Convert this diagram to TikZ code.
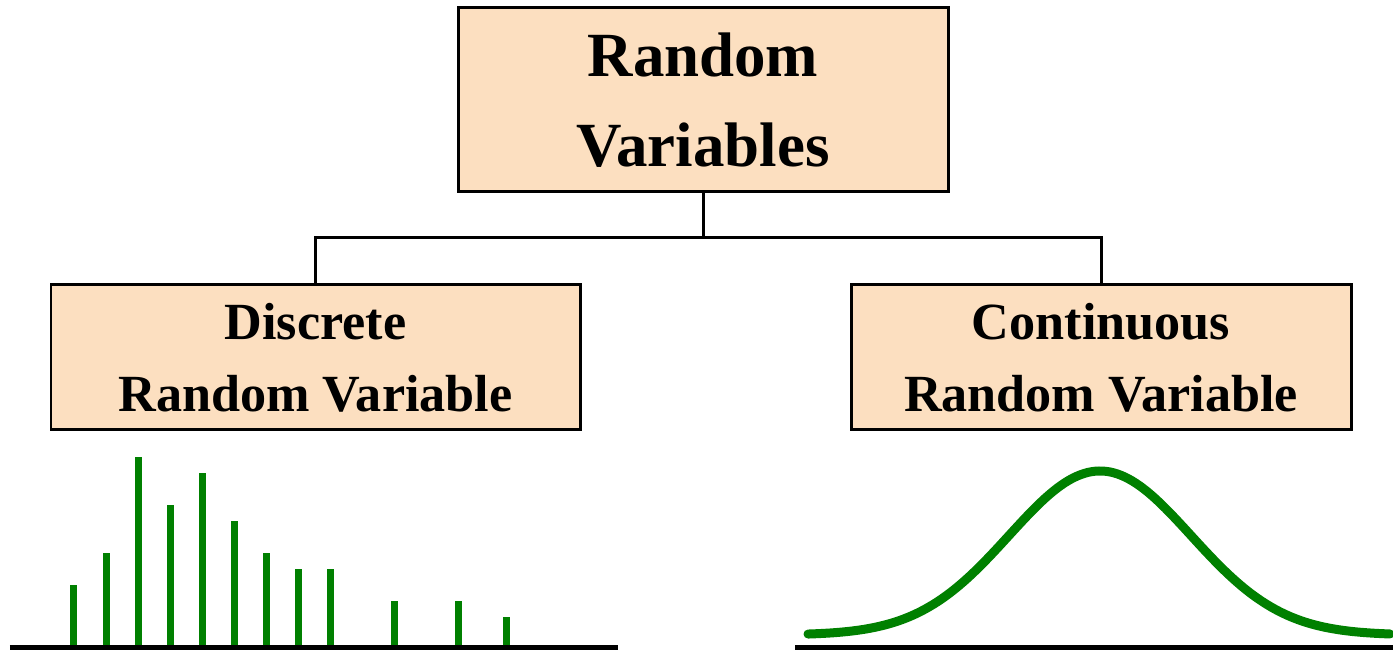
\documentclass[tikz,border=0pt]{standalone}
\usepackage{fontspec}
\setmainfont{Liberation Serif}
\usetikzlibrary{positioning}

\definecolor{peach}{RGB}{252,223,192}
\definecolor{plotgreen}{RGB}{0,128,0}

\begin{document}
\begin{tikzpicture}[
  box/.style={draw, line width=1.7pt, fill=peach, align=center, inner sep=0pt, font=\bfseries},
  topbox/.style={box, minimum width=9.8cm, minimum height=3.68cm, font=\fontsize{35.8}{51}\selectfont\bfseries},
  childbox/.style={box, minimum height=2.9cm, font=\fontsize{29.7}{41}\selectfont\bfseries},
  link/.style={line width=1.7pt},
  axis/.style={line width=2.8pt},
  bar/.style={plotgreen, line width=0.14cm},
  curve/.style={plotgreen, line width=0.18cm, line cap=round}
]
\useasboundingbox (0,0) rectangle (27.86,13);

\node[topbox] (randvar) at (14.06,11.0) {Random\\Variables};
\node[childbox, minimum width=10.58cm] (discrete) at (6.31,5.85) {Discrete\\Random Variable};
\node[childbox, minimum width=10cm] (continuous) at (22.02,5.85) {Continuous\\Random Variable};

\coordinate (split) at (14.06,8.24);
\draw[link] (randvar.south) -- (split);
\draw[link] (split) -| (discrete.north);
\draw[link] (split) -| (continuous.north);

% discrete distribution
\foreach \x/\h in {1.46/1.24, 2.12/1.88, 2.76/3.8, 3.40/2.84, 4.04/3.48, 4.68/2.52,
                   5.32/1.88, 5.96/1.56, 6.60/1.56, 7.88/0.92, 9.16/0.92, 10.12/0.6}
  \draw[bar] (\x,0.05) -- ++(0,\h);
\draw[axis] (0.2,0.05) -- (12.36,0.05);

% continuous distribution
\draw[curve] plot[domain=16.16:27.8, samples=80, smooth]
  (\x, {0.3 + 3.28*exp(-((\x-22.0)^2)/(2*1.82^2))});
\draw[axis] (15.9,0.05) -- (27.86,0.05);

\end{tikzpicture}
\end{document}
